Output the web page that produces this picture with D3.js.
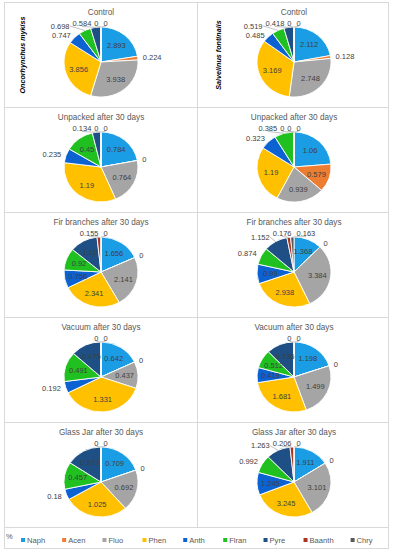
<!DOCTYPE html>
<html><head><meta charset="utf-8">
<script src="https://cdn.jsdelivr.net/npm/d3@7"></script>
<style>body{margin:0;background:#fff} svg{display:block}</style>
</head><body><svg id="chart" width="395" height="550"></svg>
<script>
const categories = ["Naph","Acen","Fluo","Phen","Anth","Flran","Pyre","Baanth","Chry"];
const seriesColors = ["#1a9de4","#ed7d31","#a5a5a5","#ffc000","#0c62d1","#1fc01f","#1e4f85","#a8361f","#595959"];
const treatments = ["Control","Unpacked after 30 days","Fir branches after 30 days","Vacuum after 30 days","Glass Jar after 30 days"];
const species = ["Oncorhynchus mykiss","Salvelinus fontinalis"];
const unitLabel = "%";

// Oncorhynchus mykiss
const mykissControl   = [2.893,0.224,3.938,3.856,0.747,0.698,0.584,0,0];
const mykissUnpacked  = [0.784,0,0.764,1.19,0.235,0.45,0.134,0,0];
const mykissFir       = [1.656,0,2.141,2.341,0.756,0.92,1.11,0.155,0];
const mykissVacuum    = [0.642,0,0.437,1.331,0.192,0.491,0.475,0,0];
const mykissGlassJar  = [0.709,0,0.692,1.025,0.18,0.457,0.573,0,0];
// Salvelinus fontinalis
const fontinalisControl  = [2.112,0.128,2.748,3.169,0.485,0.519,0.418,0,0];
const fontinalisUnpacked = [1.06,0.579,0.939,1.19,0.323,0.385,0,0,0];
const fontinalisFir      = [1.368,0,3.384,2.938,0.99,0.874,1.152,0.176,0.163];
const fontinalisVacuum   = [1.198,0,1.499,1.681,0.419,0.512,0.736,0,0];
const fontinalisGlassJar = [1.911,0,3.101,3.245,1.245,0.992,1.263,0.206,0];

// which data labels sit inside their slice (others are placed outside)
const mykissInside = [["Naph","Fluo","Phen"],["Naph","Fluo","Phen","Flran"],["Naph","Fluo","Phen","Anth","Flran","Pyre"],["Naph","Fluo","Phen","Flran","Pyre"],["Naph","Fluo","Phen","Flran","Pyre"]];
const fontinalisInside = [["Naph","Fluo","Phen"],["Naph","Acen","Fluo","Phen"],["Naph","Fluo","Phen","Anth"],["Naph","Fluo","Phen","Anth","Flran","Pyre"],["Naph","Fluo","Phen","Anth"]];

const columns = [
  {species: species[0], series: [mykissControl,mykissUnpacked,mykissFir,mykissVacuum,mykissGlassJar], inside: mykissInside},
  {species: species[1], series: [fontinalisControl,fontinalisUnpacked,fontinalisFir,fontinalisVacuum,fontinalisGlassJar], inside: fontinalisInside}
];

const svg = d3.select("#chart");
const FONT = "'Liberation Sans', Arial, sans-serif";
const color = d3.scaleOrdinal().domain(categories).range(seriesColors);
const colX = [4, 197], colW = [193, 191];
const rowTop0 = 2, rowH = 105;
const rx = 37, ry = 35;
const LFS = 7.5;
const fmt = v => String(v);

const pie = d3.pie().sort(null).value(d => d.v);
const arc = d3.arc().innerRadius(0).outerRadius(rx);

function boxOverlap(a, b) {
  return a.x0 < b.x1 && a.x1 > b.x0 && a.y0 < b.y1 && a.y1 > b.y0;
}

columns.forEach((col, ci) => {
  col.series.forEach((vals, ri) => {
    const top = rowTop0 + ri * rowH;
    const left = colX[ci];
    svg.append("rect").attr("x", left + 0.5).attr("y", top + 0.5)
      .attr("width", colW[ci]).attr("height", rowH)
      .attr("fill", "#fff").attr("stroke", "#d9d9d9").attr("stroke-width", 1);
    const cx = left + 97, cy = top + 60;
    svg.append("text").attr("x", cx).attr("y", top + 13)
      .attr("text-anchor", "middle").attr("font-family", FONT)
      .attr("font-size", 8.2).attr("fill", "#595959").text(treatments[ri]);

    const data = categories.map((c, i) => ({c, v: vals[i]}));
    const arcs = pie(data);
    const g = svg.append("g").attr("transform", `translate(${cx},${cy})`);
    g.append("g").attr("transform", `scale(1,${ry/rx})`)
      .selectAll("path").data(arcs).join("path")
      .attr("d", arc).attr("fill", d => color(d.data.c))
      .attr("stroke", "#fff").attr("stroke-width", 0.9)
      .attr("vector-effect", "non-scaling-stroke");

    const pt = (a, dr) => [cx + (rx + dr) * Math.sin(a), cy - (ry + dr) * Math.cos(a)];
    const insideSet = new Set(col.inside[ri]);
    const labelG = svg.append("g").attr("font-family", FONT).attr("font-size", LFS).attr("fill", "#404040");

    // inside labels
    arcs.filter(d => insideSet.has(d.data.c)).forEach(d => {
      const m = (d.startAngle + d.endAngle) / 2;
      labelG.append("text")
        .attr("x", cx + rx * 0.64 * Math.sin(m))
        .attr("y", cy - ry * 0.64 * Math.cos(m))
        .attr("dy", "0.35em").attr("text-anchor", "middle").text(fmt(d.data.v));
    });

    // outside labels
    const outs = arcs.filter(d => !insideSet.has(d.data.c)).map(d => {
      const m = (d.startAngle + d.endAngle) / 2;
      const tmp = labelG.append("text").text(fmt(d.data.v));
      const w = tmp.node().getComputedTextLength();
      tmp.remove();
      let place;
      if (d.data.c === categories[categories.length - 1] && m > 2 * Math.PI - 0.35) place = "topRight";
      else if (m > 2 * Math.PI - 0.3) place = "topLeft";
      else place = Math.sin(m) >= 0 ? "right" : "left";
      return {d, m, w, place};
    });
    const placed = [];
    const hh = 9;
    const gap = 3;
    const yTop = cy - ry - 4;
    function put(o, x, y, anchor) {
      o.x = x; o.y = y; o.anchor = anchor;
      o.box = anchor === "end" ? {x0: x - o.w, x1: x, y0: y - hh/2, y1: y + hh/2}
            : {x0: x, x1: x + o.w, y0: y - hh/2, y1: y + hh/2};
    }
    function resolve(o, side) {
      let guard = 0;
      while (guard++ < 30) {
        const hit = placed.filter(p => boxOverlap(p.box, o.box));
        if (!hit.length) break;
        const dyNeed = Math.max(...hit.map(p => p.box.y1 - o.box.y0));
        if (dyNeed <= 4.5) {
          put(o, o.x, o.y + dyNeed + 0.2, o.anchor);
        } else if (side === "left") {
          put(o, Math.min(...hit.map(p => p.box.x0)) - gap, o.y, "end");
        } else {
          put(o, Math.max(...hit.map(p => p.box.x1)) + gap, o.y, "start");
        }
      }
    }
    outs.filter(o => o.place === "topRight").forEach(o => {
      put(o, cx + 2.5, yTop, "start"); o.shifted = true; placed.push(o);
    });
    outs.filter(o => o.place === "topLeft").sort((a, b) => b.m - a.m).forEach(o => {
      put(o, cx - 2.5, yTop, "end");
      let guard = 0;
      while (placed.some(p => boxOverlap(p.box, o.box)) && guard++ < 20) {
        const hit = placed.filter(p => boxOverlap(p.box, o.box));
        put(o, Math.min(...hit.map(p => p.box.x0)) - gap, yTop, "end");
      }
      o.shifted = true; placed.push(o);
    });
    outs.filter(o => o.place === "left").sort((a, b) => b.m - a.m).forEach(o => {
      const [x, y] = pt(o.m, 5);
      put(o, x, y, "end");
      resolve(o, "left");
      o.shifted = Math.hypot(o.x - x, o.y - y) > 3;
      placed.push(o);
    });
    outs.filter(o => o.place === "right").sort((a, b) => a.m - b.m).forEach(o => {
      const [x, y] = pt(o.m, 5);
      put(o, x, y, "start");
      resolve(o, "right");
      o.shifted = Math.hypot(o.x - x, o.y - y) > 3;
      placed.push(o);
    });
    placed.forEach(o => {
      if (o.shifted) {
        const [ax, ay] = pt(o.m, 0);
        let bx, by;
        if (o.place === "topLeft" || o.place === "topRight") {
          bx = (o.box.x0 + o.box.x1) / 2; by = o.y + 3.5;
        } else {
          bx = o.anchor === "end" ? o.box.x1 + 0.5 : o.box.x0 - 0.5; by = o.y;
        }
        labelG.append("line").attr("x1", ax).attr("y1", ay).attr("x2", bx).attr("y2", by)
          .attr("stroke", "#a6a6a6").attr("stroke-width", 0.7);
      }
      labelG.append("text").attr("x", o.x).attr("y", o.y).attr("dy", "0.35em")
        .attr("text-anchor", o.anchor).text(fmt(o.d.data.v));
    });

    if (ri === 0) {
      const sx = left + (ci === 0 ? 18 : 21), sy = top + 53;
      svg.append("text").attr("transform", `translate(${sx},${sy}) rotate(-90)`)
        .attr("text-anchor", "middle").attr("dy", "0.35em")
        .attr("font-family", FONT).attr("font-size", 7.2).attr("font-weight", "bold")
        .attr("font-style", "italic").attr("fill", "#000").text(col.species);
    }
  });
});

// legend
const legTop = rowTop0 + 5 * rowH;
svg.append("rect").attr("x", 4.5).attr("y", legTop + 0.5).attr("width", 384).attr("height", 21)
  .attr("fill", "#fff").attr("stroke", "#d9d9d9");
svg.append("text").attr("x", 6).attr("y", legTop + 12).attr("font-family", FONT)
  .attr("font-size", 7.5).attr("fill", "#595959").text(unitLabel);
const leg = svg.append("g").attr("font-family", FONT).attr("font-size", 7.6).attr("fill", "#595959");
let lx = 21;
categories.forEach(c => {
  leg.append("rect").attr("x", lx).attr("y", legTop + 11).attr("width", 4).attr("height", 4).attr("fill", color(c));
  const t = leg.append("text").attr("x", lx + 6).attr("y", legTop + 16).text(c);
  const w = t.node().getComputedTextLength();
  lx += Math.max(40, 6 + w + 17);
});
</script></body></html>
